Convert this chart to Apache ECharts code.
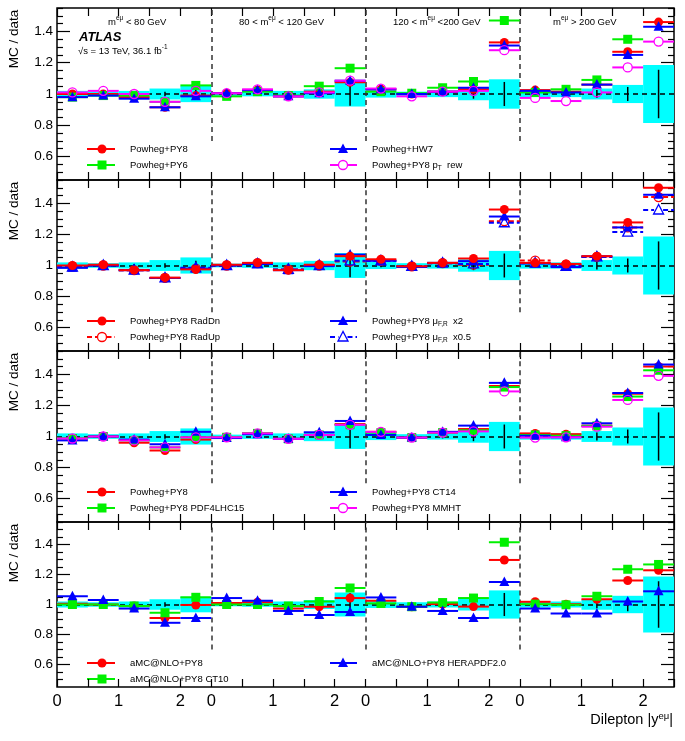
<!DOCTYPE html>
<html>
<head>
<meta charset="utf-8">
<script src="https://cdn.jsdelivr.net/npm/echarts@6.0.0/dist/echarts.min.js"></script>
<style>html,body{margin:0;padding:0;background:#fff}#main{width:685px;height:741px}</style>
</head>
<body>
<div id="main"></div>
<script>
var FONT = "'Liberation Sans', Arial, Helvetica, sans-serif";

// bins: 4 mass regions x 5 |y| bins, x axis runs 0..10 (2.5 per region)
var binCenters = [0.25, 0.75, 1.25, 1.75, 2.25, 2.75, 3.25, 3.75, 4.25, 4.75,
                  5.25, 5.75, 6.25, 6.75, 7.25, 7.75, 8.25, 8.75, 9.25, 9.75];
var halfBin = 0.25;
var regionEdges = [2.5, 5, 7.5];
var regionLabels = ['m{sup|eμ} < 80 GeV', '80 < m{sup|eμ} < 120 GeV', '120 < m{sup|eμ} <200 GeV', 'm{sup|eμ} > 200 GeV'];

var xTicks = [0, 0.5, 1, 1.5, 2, 2.5, 3, 3.5, 4, 4.5, 5, 5.5, 6, 6.5, 7, 7.5, 8, 8.5, 9, 9.5, 10];
var xLabelValues = [0, 1, 2, 2.5, 3.5, 4.5, 5, 6, 7, 7.5, 8.5, 9.5];
var xLabelTexts = ['0', '1', '2', '0', '1', '2', '0', '1', '2', '0', '1', '2'];
var yMajor = [0.6, 0.8, 1, 1.2, 1.4];
var yMinor = [0.5, 0.55, 0.65, 0.7, 0.75, 0.85, 0.9, 0.95, 1.05, 1.1, 1.15, 1.25, 1.3, 1.35, 1.45, 1.5, 1.55];

// data uncertainty (cyan band half width) and data stat error (black bar)
var dataBand = [0.02, 0.015, 0.02, 0.035, 0.052, 0.012, 0.015, 0.02, 0.03, 0.08,
                0.023, 0.015, 0.02, 0.04, 0.094, 0.02, 0.02, 0.035, 0.058, 0.186];
var dataStat = [0.01, 0.01, 0.01, 0.015, 0.03, 0.008, 0.01, 0.012, 0.02, 0.075,
                0.012, 0.01, 0.012, 0.03, 0.077, 0.012, 0.015, 0.025, 0.045, 0.155];

// panel 1
var powhegPy8 = [1.00, 1.00, 0.98, 0.915, 0.99, 1.005, 1.025, 0.985, 1.015, 1.075,
                 1.03, 1.00, 1.015, 1.03, 1.33, 1.025, 1.015, 1.06, 1.27, 1.46];
var powhegPy6 = [0.98, 0.99, 0.99, 0.95, 1.055, 0.985, 1.015, 0.99, 1.05, 1.165,
                 1.015, 1.005, 1.04, 1.08, 1.47, 1.01, 1.03, 1.09, 1.35, null];
var powhegHw7 = [0.98, 0.99, 0.97, 0.915, 0.985, 1.005, 1.025, 0.985, 1.005, 1.085,
                 1.03, 1.00, 1.015, 1.04, 1.31, 1.02, 1.01, 1.06, 1.25, 1.43];
var powhegPtRew = [1.01, 1.02, 1.00, 0.95, 1.02, 1.005, 1.03, 0.985, 1.01, 1.085,
                   1.035, 0.985, 1.015, 1.02, 1.28, 0.975, 0.955, 1.01, 1.17, 1.335];

// panel 2
var radDn = [1.00, 1.005, 0.97, 0.922, 0.975, 1.005, 1.017, 0.97, 1.005, 1.06,
             1.04, 0.995, 1.017, 1.045, 1.36, 1.017, 1.01, 1.06, 1.277, 1.50];
var radUp = [0.995, 1.00, 0.97, 0.92, 0.98, 1.00, 1.015, 0.975, 1.00, 1.025,
             1.03, 0.995, 1.015, 1.005, 1.285, 1.032, 1.005, 1.055, 1.245, 1.44];
var muX2 = [0.985, 1.00, 0.97, 0.92, 0.98, 1.00, 1.01, 0.97, 0.996, 1.07,
            1.03, 0.99, 1.017, 1.028, 1.315, 1.013, 0.99, 1.06, 1.245, 1.455];
var muX05 = [0.99, 1.00, 0.97, 0.92, 0.985, 1.00, 1.01, 0.975, 1.00, 1.03,
             1.03, 0.995, 1.015, 1.01, 1.275, 1.015, 0.995, 1.055, 1.215, 1.357];

// panel 3
var pdfNominal = [0.987, 1.00, 0.96, 0.91, 0.98, 0.995, 1.02, 0.985, 1.01, 1.08,
                  1.03, 0.993, 1.025, 1.048, 1.325, 1.02, 1.015, 1.07, 1.275, 1.45];
var pdf4lhc15 = [0.987, 1.00, 0.975, 0.93, 0.995, 0.995, 1.02, 0.985, 1.01, 1.075,
                 1.025, 0.993, 1.025, 1.04, 1.318, 1.01, 1.005, 1.068, 1.257, 1.426];
var ct14 = [0.975, 1.00, 0.98, 0.95, 1.03, 0.99, 1.015, 0.985, 1.027, 1.10,
            1.01, 0.993, 1.03, 1.07, 1.345, 1.005, 0.995, 1.085, 1.28, 1.463];
var mmht = [0.987, 1.00, 0.975, 0.93, 0.995, 0.995, 1.02, 0.985, 1.01, 1.075,
            1.03, 0.993, 1.025, 1.033, 1.29, 0.993, 0.995, 1.063, 1.235, 1.39];

// panel 4
var amcPy8 = [1.005, 1.00, 0.99, 0.91, 0.997, 1.01, 1.015, 0.973, 0.985, 1.043,
              1.025, 0.985, 1.003, 0.986, 1.297, 1.018, 1.002, 1.035, 1.16, 1.228];
var amcCt10 = [1.00, 1.00, 0.99, 0.945, 1.048, 1.00, 1.00, 0.99, 1.02, 1.11,
               1.007, 0.985, 1.013, 1.043, 1.415, 1.002, 0.998, 1.055, 1.235, 1.267];
var amcHera = [1.055, 1.03, 0.973, 0.878, 0.91, 1.043, 1.025, 0.957, 0.93, 0.95,
               1.047, 0.985, 0.957, 0.91, 1.15, 0.973, 0.94, 0.94, 1.02, 1.088];

var RED = '#ff0000', GREEN = '#00f000', BLUE = '#0000ff', MAGENTA = '#ff00ff';

var panels = [
    {top: 8, height: 172, models: [
        {label: '{n|Powheg+PY8}', color: RED, sym: 'circle', values: powhegPy8, col: 0, row: 0},
        {label: '{n|Powheg+PY6}', color: GREEN, sym: 'rect', values: powhegPy6, col: 0, row: 1},
        {label: '{n|Powheg+HW7}', color: BLUE, sym: 'triangle', values: powhegHw7, col: 1, row: 0},
        {label: '{n|Powheg+PY8 p}{sub|T}{n|  rew}', color: MAGENTA, sym: 'circle', open: true, values: powhegPtRew, col: 1, row: 1}
    ]},
    {top: 180, height: 171, models: [
        {label: '{n|Powheg+PY8 RadUp}', color: RED, sym: 'circle', open: true, dashed: true, values: radUp, col: 0, row: 1},
        {label: '{n|Powheg+PY8 μ}{sub|F,R}{n|  x0.5}', color: BLUE, sym: 'triangle', open: true, dashed: true, values: muX05, col: 1, row: 1},
        {label: '{n|Powheg+PY8 μ}{sub|F,R}{n|  x2}', color: BLUE, sym: 'triangle', values: muX2, col: 1, row: 0},
        {label: '{n|Powheg+PY8 RadDn}', color: RED, sym: 'circle', values: radDn, col: 0, row: 0}
    ]},
    {top: 351, height: 171, models: [
        {label: '{n|Powheg+PY8}', color: RED, sym: 'circle', values: pdfNominal, col: 0, row: 0},
        {label: '{n|Powheg+PY8 PDF4LHC15}', color: GREEN, sym: 'rect', values: pdf4lhc15, col: 0, row: 1},
        {label: '{n|Powheg+PY8 CT14}', color: BLUE, sym: 'triangle', values: ct14, col: 1, row: 0},
        {label: '{n|Powheg+PY8 MMHT}', color: MAGENTA, sym: 'circle', open: true, values: mmht, col: 1, row: 1}
    ]},
    {top: 522, height: 165, models: [
        {label: '{n|aMC@NLO+PY8}', color: RED, sym: 'circle', values: amcPy8, col: 0, row: 0},
        {label: '{n|aMC@NLO+PY8 CT10}', color: GREEN, sym: 'rect', values: amcCt10, col: 0, row: 1},
        {label: '{n|aMC@NLO+PY8 HERAPDF2.0}', color: BLUE, sym: 'triangle', values: amcHera, col: 1, row: 0}
    ]}
];

function marker(sym, cx, cy, color, open) {
    var st = {fill: open ? 'none' : color, stroke: color, lineWidth: open ? 1.3 : 0};
    if (sym === 'rect') {
        return {type: 'rect', shape: {x: cx - 4.5, y: cy - 4.5, width: 9, height: 9}, style: st};
    }
    if (sym === 'triangle') {
        return {type: 'polygon', shape: {points: [[cx, cy - 5.5], [cx - 5, cy + 4], [cx + 5, cy + 4]]}, style: st};
    }
    return {type: 'circle', shape: {cx: cx, cy: cy, r: 4.5}, style: st};
}

function barWithMarker(x1, x2, cx, cy, m) {
    var gap = m.open ? 4.5 : 0;
    var ls = {stroke: m.color, lineWidth: 2, lineDash: m.dashed ? [5, 3] : null};
    return [
        {type: 'line', shape: {x1: x1, y1: cy, x2: cx - gap, y2: cy}, style: ls},
        {type: 'line', shape: {x1: cx + gap, y1: cy, x2: x2, y2: cy}, style: ls},
        marker(m.sym, cx, cy, m.color, m.open)
    ];
}

function mcRender(m) {
    return function (params, api) {
        var yv = api.value(1);
        if (yv == null || isNaN(yv)) return null;
        var xv = api.value(0);
        var a = api.coord([xv - halfBin, yv]);
        var b = api.coord([xv + halfBin, yv]);
        var c = api.coord([xv, yv]);
        return {type: 'group', children: barWithMarker(a[0], b[0], c[0], c[1], m)};
    };
}

function bandRender(params, api) {
    var xv = api.value(0), h = api.value(1);
    var a = api.coord([xv - halfBin, 1 + h]);
    var b = api.coord([xv + halfBin, 1 - h]);
    return {type: 'rect', shape: {x: a[0], y: a[1], width: b[0] - a[0], height: b[1] - a[1]},
            style: {fill: '#00ffff'}};
}

function statRender(params, api) {
    var xv = api.value(0), e = api.value(1);
    var a = api.coord([xv, 1 + e]);
    var b = api.coord([xv, 1 - e]);
    return {type: 'line', shape: {x1: a[0], y1: a[1], x2: b[0], y2: b[1]},
            style: {stroke: '#000', lineWidth: 1.5}};
}

var grids = [], xAxes = [], yAxes = [], series = [], graphics = [];
var richText = {
    n: {fontSize: 9.5, fontFamily: FONT, color: '#000', lineHeight: 14},
    sub: {fontSize: 6.5, fontFamily: FONT, color: '#000', verticalAlign: 'bottom', lineHeight: 12},
    sup: {fontSize: 6.5, fontFamily: FONT, color: '#000', verticalAlign: 'top', lineHeight: 10}
};

panels.forEach(function (p, i) {
    var last = i === panels.length - 1;
    grids.push({left: 57, right: 11, top: p.top, height: p.height, show: true,
                borderColor: '#000', borderWidth: 1.5, backgroundColor: 'transparent'});

    xAxes.push({type: 'value', gridIndex: i, min: 0, max: 10, interval: 0.5, position: 'bottom',
        axisLine: {show: false}, splitLine: {show: false},
        axisTick: {inside: true, length: 8, customValues: xTicks, lineStyle: {color: '#000', width: 1.2}},
        axisLabel: {show: last, customValues: xLabelValues, margin: 6, fontSize: 16.5, fontFamily: FONT, color: '#000',
            formatter: function (v) { return xLabelTexts[xLabelValues.indexOf(v)]; }}});
    xAxes.push({type: 'value', gridIndex: i, min: 0, max: 10, interval: 0.5, position: 'top',
        axisLine: {show: false}, splitLine: {show: false}, axisLabel: {show: false},
        axisTick: {inside: true, length: 8, customValues: xTicks, lineStyle: {color: '#000', width: 1.2}}});

    ['left', 'right'].forEach(function (side) {
        yAxes.push({type: 'value', gridIndex: i, min: 0.45, max: 1.55, position: side,
            axisLine: {show: false}, splitLine: {show: false},
            axisTick: {inside: true, length: 13, customValues: yMajor, lineStyle: {color: '#000', width: 1.2}},
            axisLabel: {show: side === 'left', customValues: yMajor, margin: 4, fontSize: 13.5, fontFamily: FONT, color: '#000',
                formatter: function (v) { return String(+v.toFixed(1)); }}});
        yAxes.push({type: 'value', gridIndex: i, min: 0.45, max: 1.55, position: side,
            axisLine: {show: false}, splitLine: {show: false}, axisLabel: {show: false},
            axisTick: {inside: true, length: 6, customValues: yMinor, lineStyle: {color: '#000', width: 1.2}}});
    });

    var vLines = regionEdges.map(function (e) {
        return [{coord: [e, 0.7], lineStyle: {color: '#333', width: 1.5, type: [5, 4]}}, {coord: [e, 1.55]}];
    });
    series.push({type: 'custom', xAxisIndex: 2 * i, yAxisIndex: 4 * i, z: 1, silent: true,
        data: binCenters.map(function (x, k) { return [x, dataBand[k]]; }),
        renderItem: bandRender,
        markLine: {silent: true, symbol: 'none', z: 2, label: {show: false},
            lineStyle: {color: '#000', width: 1.5, type: [5, 4]},
            data: [{yAxis: 1}].concat(vLines)}});
    series.push({type: 'custom', xAxisIndex: 2 * i, yAxisIndex: 4 * i, z: 3, silent: true,
        data: binCenters.map(function (x, k) { return [x, dataStat[k]]; }),
        renderItem: statRender});

    p.models.forEach(function (m, j) {
        series.push({type: 'custom', xAxisIndex: 2 * i, yAxisIndex: 4 * i, z: 10 + j, silent: true,
            data: binCenters.map(function (x, k) { return [x, m.values[k]]; }),
            renderItem: mcRender(m)});
        // legend entry
        var lx = m.col === 0 ? [87, 115, 102, 130] : [330, 357, 343, 372];
        var ly = p.top + 141 + 16 * m.row;
        graphics.push({type: 'group', children: barWithMarker(lx[0], lx[1], lx[2], ly, m)});
        graphics.push({type: 'text', x: lx[3], y: ly, style: {text: m.label, rich: richText,
            textVerticalAlign: 'middle', textAlign: 'left'}});
    });

    graphics.push({type: 'text', x: 14, y: p.top + 31, rotation: Math.PI / 2,
        style: {text: 'MC / data', font: '13.5px ' + FONT, fill: '#000', textAlign: 'center', textVerticalAlign: 'middle'}});
});

var regionTextX = [108, 239, 393, 553];
regionLabels.forEach(function (t, k) {
    graphics.push({type: 'text', x: regionTextX[k], y: 22,
        style: {text: '{n|' + t.replace('m{sup|eμ}', 'm}{sup|eμ}{n|') + '}', rich: richText, textVerticalAlign: 'middle'}});
});
graphics.push({type: 'text', x: 79, y: 37, style: {text: 'ATLAS', font: 'italic bold 13px ' + FONT, fill: '#000', textVerticalAlign: 'middle'}});
graphics.push({type: 'text', x: 78, y: 51, style: {text: '{n|√s = 13 TeV, 36.1 fb}{sup|-1}', rich: richText, textVerticalAlign: 'middle'}});
graphics.push({type: 'text', x: 673, y: 720, style: {text: '{t|Dilepton |y}{s|eμ}{t||}', textAlign: 'right', textVerticalAlign: 'middle',
    rich: {t: {fontSize: 14.5, fontFamily: FONT, color: '#000', lineHeight: 18},
           s: {fontSize: 9.5, fontFamily: FONT, color: '#000', verticalAlign: 'top', lineHeight: 12}}}});

var myChart = echarts.init(document.getElementById('main'));
myChart.setOption({
    animation: false,
    backgroundColor: '#fff',
    grid: grids,
    xAxis: xAxes,
    yAxis: yAxes,
    series: series,
    graphic: graphics
});
</script>
</body>
</html>
